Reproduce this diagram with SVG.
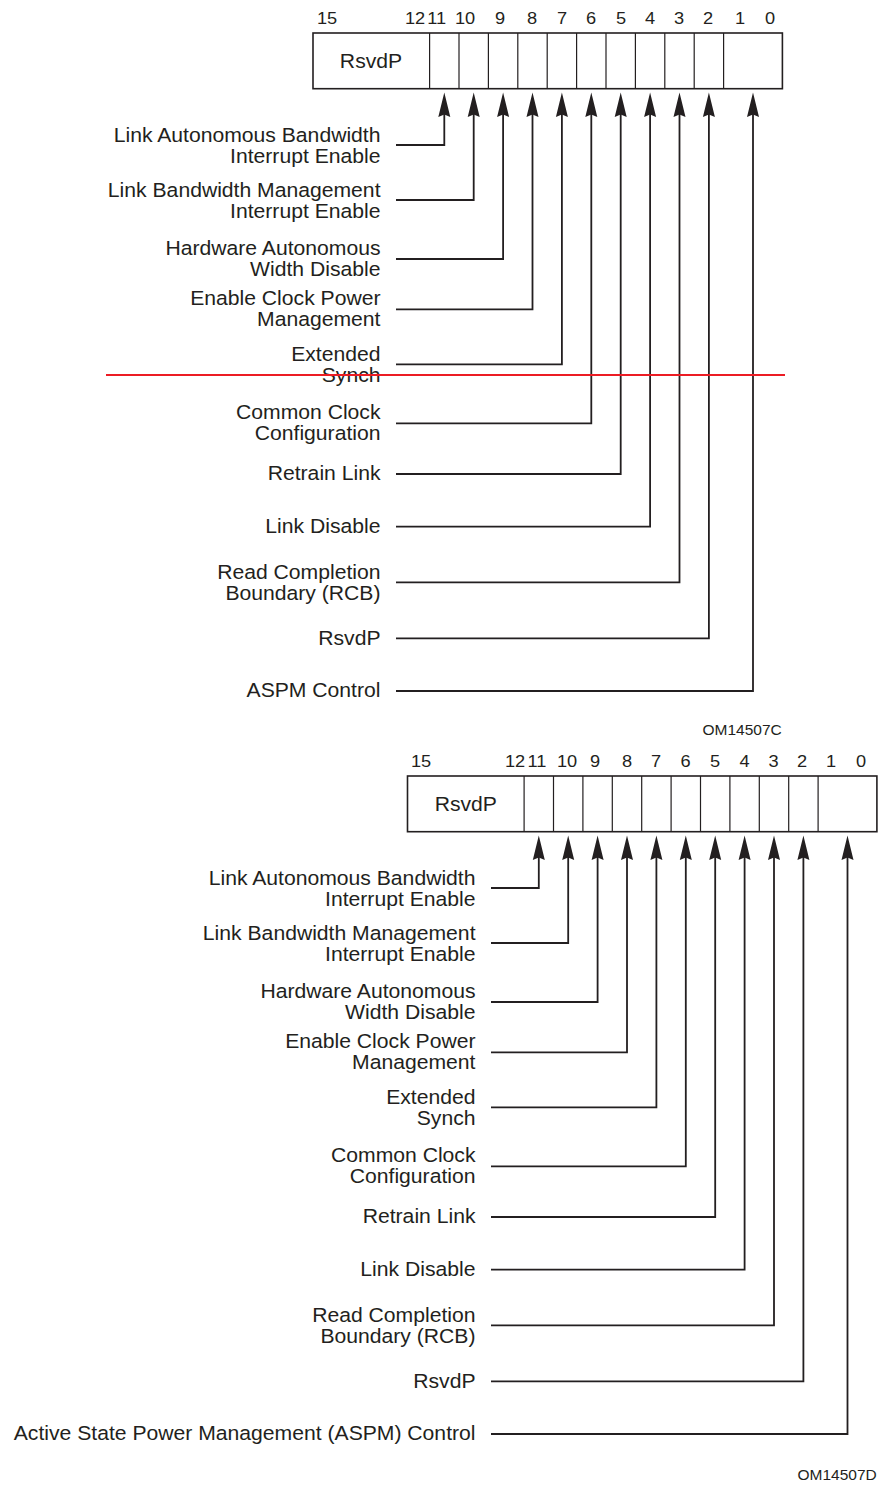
<svg xmlns="http://www.w3.org/2000/svg" width="878" height="1486" viewBox="0 0 878 1486">
<style>
.t{font-family:"Liberation Sans",Arial,Helvetica,sans-serif;font-size:19.5px;fill:#231f20}
.e{text-anchor:end}
.m{text-anchor:middle}
.n{font-size:16.8px}
.c{font-size:14.3px}
.box{fill:#fff;stroke:#231f20;stroke-width:1.6}
.div{stroke:#231f20;stroke-width:1.2}
.ln{fill:none;stroke:#231f20;stroke-width:1.8;marker-end:url(#ah)}
.red{stroke:#ec1c24;stroke-width:2}
</style>
<defs>
<marker id="ah" markerUnits="userSpaceOnUse" viewBox="-5 -7 27 14" markerWidth="27" markerHeight="14" refX="0" refY="0" orient="auto">
<path d="M-4,-6 L20.5,0 L-4,6 L-1.5,0 Z" fill="#231f20"/>
</marker>
</defs>
<rect width="878" height="1486" fill="#fff"/>

<g id="register-top">
<rect class="box" x="313" y="33" width="469.4" height="55.7"/>
<g class="div">
<line x1="429.6" y1="33" x2="429.6" y2="88.7"/><line x1="459" y1="33" x2="459" y2="88.7"/><line x1="488.4" y1="33" x2="488.4" y2="88.7"/><line x1="517.8" y1="33" x2="517.8" y2="88.7"/><line x1="547.2" y1="33" x2="547.2" y2="88.7"/><line x1="576.6" y1="33" x2="576.6" y2="88.7"/><line x1="606" y1="33" x2="606" y2="88.7"/><line x1="635.4" y1="33" x2="635.4" y2="88.7"/><line x1="664.8" y1="33" x2="664.8" y2="88.7"/><line x1="694.2" y1="33" x2="694.2" y2="88.7"/><line x1="723.6" y1="33" x2="723.6" y2="88.7"/>
</g>
<text class="t m" transform="translate(371,67.5) scale(1.085 1)">RsvdP</text>
<g class="t n m">
<text transform="translate(327,23.5) scale(1.085 1)">15</text>
<text transform="translate(415,23.5) scale(1.085 1)">12</text>
<text transform="translate(436.7,23.5) scale(1.085 1)">11</text>
<text transform="translate(465,23.5) scale(1.085 1)">10</text>
<text transform="translate(500,23.5) scale(1.085 1)">9</text>
<text transform="translate(532,23.5) scale(1.085 1)">8</text>
<text transform="translate(562,23.5) scale(1.085 1)">7</text>
<text transform="translate(591,23.5) scale(1.085 1)">6</text>
<text transform="translate(621,23.5) scale(1.085 1)">5</text>
<text transform="translate(650,23.5) scale(1.085 1)">4</text>
<text transform="translate(679,23.5) scale(1.085 1)">3</text>
<text transform="translate(708,23.5) scale(1.085 1)">2</text>
<text transform="translate(740,23.5) scale(1.085 1)">1</text>
<text transform="translate(770,23.5) scale(1.085 1)">0</text>
</g>
</g>

<g id="labels-top" class="t e">
<g id="t-b11"><text transform="translate(380.5,141.7) scale(1.085 1)"><tspan x="0" y="0">Link Autonomous Bandwidth</tspan><tspan x="0" y="21.5">Interrupt Enable</tspan></text></g>
<g id="t-b10"><text transform="translate(380.5,196.7) scale(1.085 1)"><tspan x="0" y="0">Link Bandwidth Management</tspan><tspan x="0" y="21.5">Interrupt Enable</tspan></text></g>
<g id="t-b9"><text transform="translate(380.5,255) scale(1.085 1)"><tspan x="0" y="0">Hardware Autonomous</tspan><tspan x="0" y="21.4">Width Disable</tspan></text></g>
<g id="t-b8"><text transform="translate(380.5,305) scale(1.085 1)"><tspan x="0" y="0">Enable Clock Power</tspan><tspan x="0" y="21.1">Management</tspan></text></g>
<g id="t-b7"><text transform="translate(380.5,360.7) scale(1.085 1)"><tspan x="0" y="0">Extended</tspan><tspan x="0" y="21">Synch</tspan></text></g>
<g id="t-b6"><text transform="translate(380.5,419.3) scale(1.085 1)"><tspan x="0" y="0">Common Clock</tspan><tspan x="0" y="20.8">Configuration</tspan></text></g>
<g id="t-b5"><text transform="translate(380.5,480) scale(1.085 1)">Retrain Link</text></g>
<g id="t-b4"><text transform="translate(380.5,532.7) scale(1.085 1)">Link Disable</text></g>
<g id="t-b3"><text transform="translate(380.5,579.3) scale(1.085 1)"><tspan x="0" y="0">Read Completion</tspan><tspan x="0" y="20.8">Boundary (RCB)</tspan></text></g>
<g id="t-b2"><text transform="translate(380.5,645) scale(1.085 1)">RsvdP</text></g>
<g id="t-b1-0"><text transform="translate(380.5,696.7) scale(1.085 1)">ASPM Control</text></g>
</g>

<g id="connectors-top">
<polyline class="ln" points="396,145 444.3,145 444.3,113"/>
<polyline class="ln" points="396,200 473.7,200 473.7,113"/>
<polyline class="ln" points="396,259 503.1,259 503.1,113"/>
<polyline class="ln" points="396,309.3 532.5,309.3 532.5,113"/>
<polyline class="ln" points="396,364.3 561.9,364.3 561.9,113"/>
<polyline class="ln" points="396,423.3 591.3,423.3 591.3,113"/>
<polyline class="ln" points="396,474 620.7,474 620.7,113"/>
<polyline class="ln" points="396,526.7 650.1,526.7 650.1,113"/>
<polyline class="ln" points="396,582.3 679.5,582.3 679.5,113"/>
<polyline class="ln" points="396,638.3 708.9,638.3 708.9,113"/>
<polyline class="ln" points="396,691 753,691 753,113"/>
</g>

<line id="red-rule" class="red" x1="106" y1="375" x2="785" y2="375"/>

<text id="code-c" class="t c e" transform="translate(781.7,735) scale(1.085 1)">OM14507C</text>

<g id="register-bottom">
<rect class="box" x="407.5" y="776" width="469.4" height="55.7"/>
<g class="div">
<line x1="524.1" y1="776" x2="524.1" y2="831.7"/><line x1="553.5" y1="776" x2="553.5" y2="831.7"/><line x1="582.9" y1="776" x2="582.9" y2="831.7"/><line x1="612.3" y1="776" x2="612.3" y2="831.7"/><line x1="641.7" y1="776" x2="641.7" y2="831.7"/><line x1="671.1" y1="776" x2="671.1" y2="831.7"/><line x1="700.5" y1="776" x2="700.5" y2="831.7"/><line x1="729.9" y1="776" x2="729.9" y2="831.7"/><line x1="759.3" y1="776" x2="759.3" y2="831.7"/><line x1="788.7" y1="776" x2="788.7" y2="831.7"/><line x1="818.1" y1="776" x2="818.1" y2="831.7"/>
</g>
<text class="t m" transform="translate(465.8,810.5) scale(1.085 1)">RsvdP</text>
<g class="t n m">
<text transform="translate(421,766.5) scale(1.085 1)">15</text>
<text transform="translate(515,766.5) scale(1.085 1)">12</text>
<text transform="translate(537,766.5) scale(1.085 1)">11</text>
<text transform="translate(567,766.5) scale(1.085 1)">10</text>
<text transform="translate(595,766.5) scale(1.085 1)">9</text>
<text transform="translate(627,766.5) scale(1.085 1)">8</text>
<text transform="translate(656,766.5) scale(1.085 1)">7</text>
<text transform="translate(685.5,766.5) scale(1.085 1)">6</text>
<text transform="translate(715,766.5) scale(1.085 1)">5</text>
<text transform="translate(744.5,766.5) scale(1.085 1)">4</text>
<text transform="translate(773.5,766.5) scale(1.085 1)">3</text>
<text transform="translate(802,766.5) scale(1.085 1)">2</text>
<text transform="translate(831,766.5) scale(1.085 1)">1</text>
<text transform="translate(861,766.5) scale(1.085 1)">0</text>
</g>
</g>

<g id="labels-bottom" class="t e">
<g id="b-b11"><text transform="translate(475.5,884.7) scale(1.085 1)"><tspan x="0" y="0">Link Autonomous Bandwidth</tspan><tspan x="0" y="21.5">Interrupt Enable</tspan></text></g>
<g id="b-b10"><text transform="translate(475.5,939.7) scale(1.085 1)"><tspan x="0" y="0">Link Bandwidth Management</tspan><tspan x="0" y="21.5">Interrupt Enable</tspan></text></g>
<g id="b-b9"><text transform="translate(475.5,998) scale(1.085 1)"><tspan x="0" y="0">Hardware Autonomous</tspan><tspan x="0" y="21.4">Width Disable</tspan></text></g>
<g id="b-b8"><text transform="translate(475.5,1048) scale(1.085 1)"><tspan x="0" y="0">Enable Clock Power</tspan><tspan x="0" y="21.1">Management</tspan></text></g>
<g id="b-b7"><text transform="translate(475.5,1103.7) scale(1.085 1)"><tspan x="0" y="0">Extended</tspan><tspan x="0" y="21">Synch</tspan></text></g>
<g id="b-b6"><text transform="translate(475.5,1162.3) scale(1.085 1)"><tspan x="0" y="0">Common Clock</tspan><tspan x="0" y="20.8">Configuration</tspan></text></g>
<g id="b-b5"><text transform="translate(475.5,1223) scale(1.085 1)">Retrain Link</text></g>
<g id="b-b4"><text transform="translate(475.5,1275.7) scale(1.085 1)">Link Disable</text></g>
<g id="b-b3"><text transform="translate(475.5,1322.3) scale(1.085 1)"><tspan x="0" y="0">Read Completion</tspan><tspan x="0" y="20.8">Boundary (RCB)</tspan></text></g>
<g id="b-b2"><text transform="translate(475.5,1388) scale(1.085 1)">RsvdP</text></g>
<g id="b-b1-0"><text transform="translate(475.5,1439.7) scale(1.085 1)">Active State Power Management (ASPM) Control</text></g>
</g>

<g id="connectors-bottom">
<polyline class="ln" points="491,888 538.8,888 538.8,856"/>
<polyline class="ln" points="491,943 568.2,943 568.2,856"/>
<polyline class="ln" points="491,1002 597.6,1002 597.6,856"/>
<polyline class="ln" points="491,1052.3 627,1052.3 627,856"/>
<polyline class="ln" points="491,1107.3 656.4,1107.3 656.4,856"/>
<polyline class="ln" points="491,1166.3 685.8,1166.3 685.8,856"/>
<polyline class="ln" points="491,1217 715.2,1217 715.2,856"/>
<polyline class="ln" points="491,1269.7 744.6,1269.7 744.6,856"/>
<polyline class="ln" points="491,1325.3 774,1325.3 774,856"/>
<polyline class="ln" points="491,1381.3 803.4,1381.3 803.4,856"/>
<polyline class="ln" points="491,1434 847.5,1434 847.5,856"/>
</g>

<text id="code-d" class="t c e" transform="translate(876.7,1480) scale(1.085 1)">OM14507D</text>
</svg>
